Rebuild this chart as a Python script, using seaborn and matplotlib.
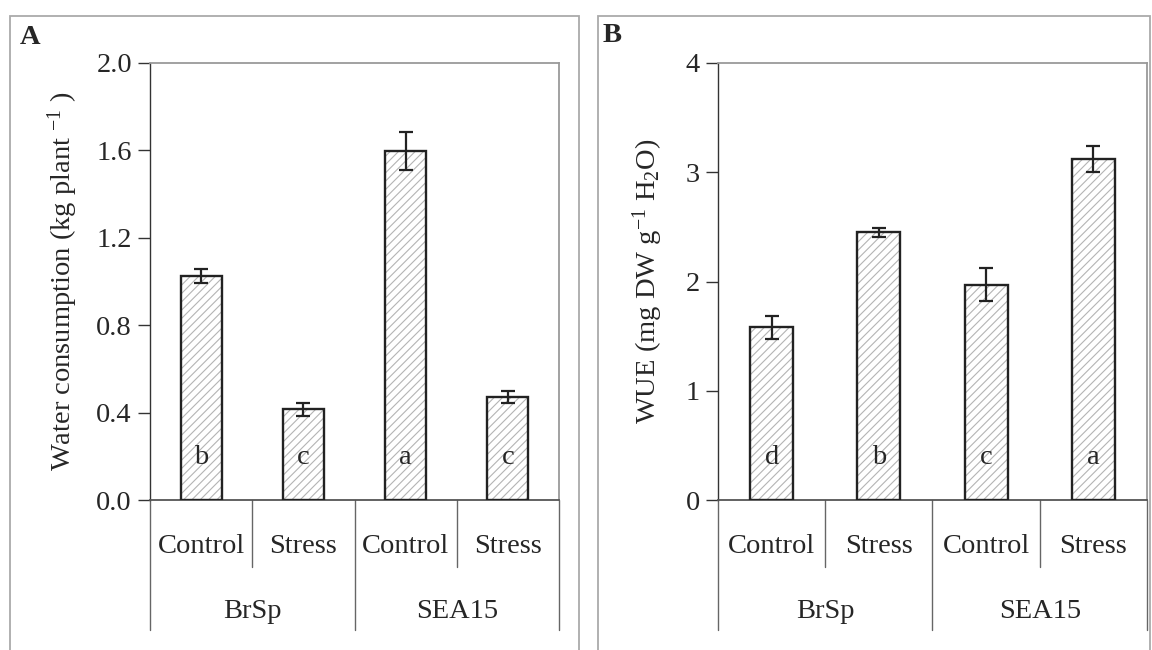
import matplotlib
matplotlib.use("Agg")
import matplotlib.pyplot as plt
import matplotlib.transforms as mtransforms
from matplotlib.patches import Rectangle
import seaborn as sns
import pandas as pd
import numpy as np

# ---- data ----
genotypes = ["BrSp", "BrSp", "SEA15", "SEA15"]
treatments = ["Control", "Stress", "Control", "Stress"]
water_mean = [1.025, 0.415, 1.597, 0.472]
water_err = [0.03, 0.03, 0.085, 0.027]
water_letters = ["b", "c", "a", "c"]
wue_mean = [1.58, 2.45, 1.97, 3.12]
wue_err = [0.105, 0.04, 0.15, 0.12]
wue_letters = ["d", "b", "c", "a"]
group_names = ["BrSp", "SEA15"]

sns.set_style("white")
plt.rcParams["font.family"] = ["Liberation Serif", "DejaVu Serif"]
plt.rcParams["mathtext.fontset"] = "custom"
plt.rcParams["mathtext.rm"] = "Liberation Serif"
plt.rcParams["mathtext.it"] = "Liberation Serif:italic"
plt.rcParams["hatch.linewidth"] = 0.8
FS = 20.5

W, H = 1152, 650
fig = plt.figure(figsize=(W / 100, H / 100), dpi=100)

def px_rect(l, r, top, bottom):
    return [l / W, (H - bottom) / H, (r - l) / W, (bottom - top) / H]

axA = fig.add_axes(px_rect(150, 559, 63, 500))
axB = fig.add_axes(px_rect(718, 1147, 63, 500))

def draw_panel(ax, means, errs, letters, ylim, yticks, ytickfmt, ylabel, labelx):
    cats = [f"{g}-{t}" for g, t in zip(genotypes, treatments)]
    df = pd.DataFrame({"cat": cats, "val": means})
    # hatched fill
    sns.barplot(data=df, x="cat", y="val", order=cats, ax=ax, width=0.4,
                color="white", edgecolor="#b4b4b4", linewidth=0,
                hatch="////", errorbar=None, zorder=2)
    # outline
    sns.barplot(data=df, x="cat", y="val", order=cats, ax=ax, width=0.4,
                fill=False, edgecolor="#222222", linewidth=1.7,
                errorbar=None, zorder=3)
    xs = np.arange(len(cats))
    ax.errorbar(xs, means, yerr=errs, fmt="none", ecolor="#222222",
                elinewidth=1.6, capsize=4.8, capthick=1.6, zorder=4)
    ax.set_xlim(-0.5, len(cats) - 0.5)
    ax.set_ylim(*ylim)
    ax.set_yticks(yticks)
    ax.set_yticklabels([ytickfmt.format(v) for v in yticks], fontsize=FS)
    ax.set_xticks([])
    ax.set_xlabel("")
    ax.set_ylabel(ylabel, fontsize=FS)
    ax.yaxis.set_label_coords(labelx, 0.5)
    ax.tick_params(axis="y", direction="out", length=9, width=1.0,
                   color="#333333", left=True, pad=4)
    for s in ["top", "right"]:
        ax.spines[s].set_color("#9a9a9a")
        ax.spines[s].set_linewidth(1.3)
    ax.spines["left"].set_color("#333333")
    ax.spines["left"].set_linewidth(1.0)
    ax.spines["bottom"].set_color("#555555")
    ax.spines["bottom"].set_linewidth(1.3)

    trans = mtransforms.blended_transform_factory(ax.transData, ax.transAxes)
    # significance letters
    for x, let in zip(xs, letters):
        ax.text(x, 0.098, let, transform=trans, ha="center", va="center",
                fontsize=FS, zorder=5)
    # treatment labels
    for x, t in zip(xs, treatments):
        ax.text(x, -0.107, t, transform=trans, ha="center", va="center",
                fontsize=FS, clip_on=False)
    # group labels
    for gi, g in enumerate(group_names):
        ax.text(2 * gi + 0.5, -0.256, g, transform=trans, ha="center",
                va="center", fontsize=FS, clip_on=False)
    # separators
    for b in [-0.5, 1.5, 3.5]:
        ax.plot([b, b], [0, -0.297], transform=trans, color="#666666",
                lw=1.0, clip_on=False)
    for b in [0.5, 2.5]:
        ax.plot([b, b], [0, -0.153], transform=trans, color="#666666",
                lw=1.0, clip_on=False)

draw_panel(axA, water_mean, water_err, water_letters, (0, 2.0),
           [0.0, 0.4, 0.8, 1.2, 1.6, 2.0], "{:.1f}",
           r"Water consumption (kg plant $\mathregular{^{-1}}$ )", -0.172)
draw_panel(axB, wue_mean, wue_err, wue_letters, (0, 4),
           [0, 1, 2, 3, 4], "{:d}",
           r"WUE (mg DW g$\mathregular{^{-1}}$ H$\mathregular{_{2}}$O)", -0.124)

# panel frames (open at the bottom edge of the image)
for (l, r) in [(10, 579), (598, 1150)]:
    fig.add_artist(Rectangle((l / W, -0.05), (r - l) / W, (H - 16) / H + 0.05,
                             transform=fig.transFigure, fill=False,
                             edgecolor="#aaaaaa", linewidth=1.3))

fig.text(20 / W, 1 - 38 / H, "A", fontsize=FS, fontweight="bold",
         ha="left", va="center")
fig.text(603 / W, 1 - 36 / H, "B", fontsize=FS, fontweight="bold",
         ha="left", va="center")

fig.savefig("out.png", dpi=100)
